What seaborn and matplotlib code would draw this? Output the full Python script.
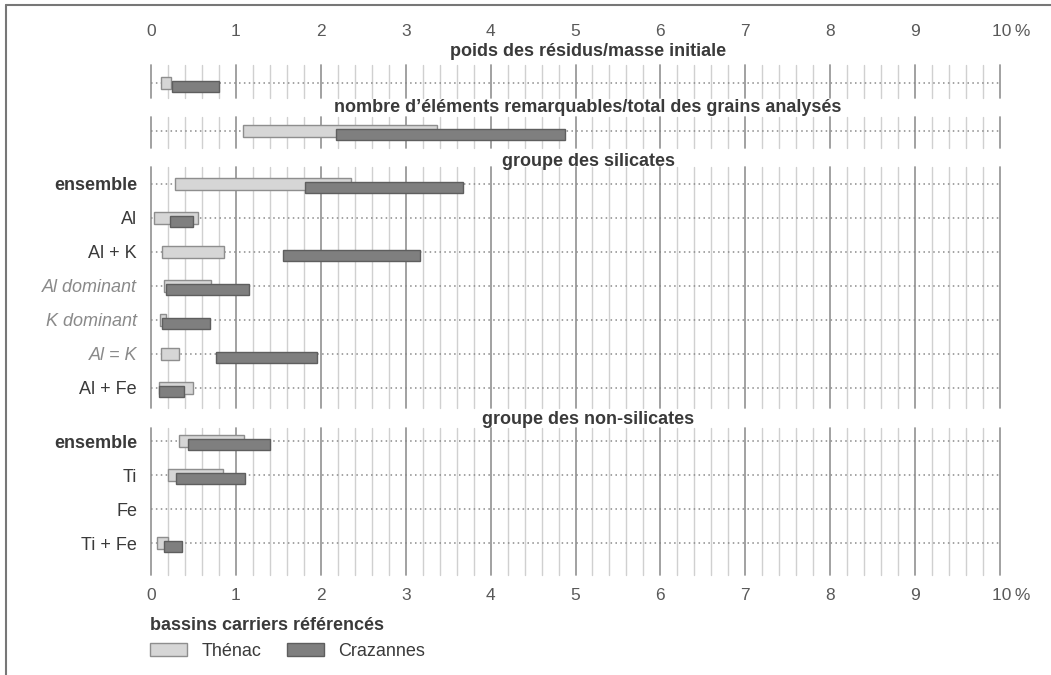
# plot.py
# Floating bar chart: ranges of residue measurements, Thénac vs Crazannes

import numpy as np
import matplotlib.pyplot as plt
import seaborn as sns
from matplotlib.lines import Line2D
from matplotlib.transforms import ScaledTranslation

sns.set_style("white")
plt.rcParams['font.family'] = ['Liberation Sans', 'DejaVu Sans']

# Data (min / max in %)
titles = ["poids des résidus/masse initiale",
          "nombre d\u2019éléments remarquables/total des grains analysés",
          "groupe des silicates",
          "groupe des non-silicates"]

residus_thenac = [0.12, 0.23]
residus_crazannes = [0.25, 0.80]

grains_thenac = [1.08, 3.37]
grains_crazannes = [2.18, 4.88]

sil_labels = ["ensemble", "Al", "Al + K", "Al dominant", "K dominant", "Al = K", "Al + Fe"]
sil_thenac_min = [0.28, 0.04, 0.13, 0.15, 0.11, 0.12, 0.09]
sil_thenac_max = [2.35, 0.55, 0.86, 0.71, 0.18, 0.33, 0.49]
sil_craz_min = [1.81, 0.22, 1.55, 0.18, 0.13, 0.77, 0.09]
sil_craz_max = [3.68, 0.50, 3.17, 1.16, 0.70, 1.95, 0.39]

nsil_labels = ["ensemble", "Ti", "Fe", "Ti + Fe"]
nsil_thenac_min = [0.33, 0.20, np.nan, 0.07]
nsil_thenac_max = [1.09, 0.85, np.nan, 0.20]
nsil_craz_min = [0.44, 0.29, np.nan, 0.15]
nsil_craz_max = [1.40, 1.11, np.nan, 0.37]

x_ticks = list(range(11))
x_ticklabels = ["0", "1", "2", "3", "4", "5", "6", "7", "8", "9", "10\u2009%"]

LIGHT, LIGHT_EDGE = "#d6d6d6", "#8e8e8e"
DARK, DARK_EDGE = "#7f7f7f", "#5e5e5e"
TXT = "#3a3a3a"
TICK_TXT = "#595959"

W, H = 1051, 675
fig = plt.figure(figsize=(W / 100, H / 100), dpi=100)

ROW_PX = 34.0
X0_PX, X1_PX = 151, 1000


def add_panel(top, bottom, first_row):
    ax = fig.add_axes([X0_PX / W, 1 - bottom / H, (X1_PX - X0_PX) / W, (bottom - top) / H])
    ax.set_xlim(0, 10)
    ax.set_ylim((bottom - first_row) / ROW_PX, (top - first_row) / ROW_PX)
    ax.patch.set_alpha(0)
    sns.despine(ax=ax, left=True, bottom=True)
    ax.tick_params(length=0)
    ax.set_xticks([])
    return ax


def draw(ax, labels, t_lo, t_hi, c_lo, c_hi):
    y = np.arange(len(labels))
    for v in np.arange(0, 10.001, 0.2):
        major = abs(v - round(v)) < 1e-6
        ax.axvline(v, color="#9a9a9a" if major else "#d0d0d0",
                   lw=1.3 if major else 1.0, zorder=0, clip_on=False)
    ax.hlines(y, 0, 10, color="#8a8a8a", lw=1.1, linestyles=(0, (1, 2.2)), zorder=1)
    th = ax.barh(y, np.subtract(t_hi, t_lo), left=t_lo, height=0.35,
                 color=LIGHT, edgecolor=LIGHT_EDGE, lw=1.0, zorder=2, label="Thénac")
    cz = ax.barh(y + 0.1, np.subtract(c_hi, c_lo), left=c_lo, height=0.33,
                 color=DARK, edgecolor=DARK_EDGE, lw=1.0, zorder=3, label="Crazannes")
    ax.set_yticks(y, labels)
    ax.tick_params(axis="y", pad=10, labelsize=13, labelcolor=TXT)
    return th, cz


def percent_ticks(ax, pad):
    ax.set_xticks(x_ticks, x_ticklabels)
    ax.tick_params(axis="x", length=0, pad=pad, labelsize=12.5, labelcolor=TICK_TXT)
    # the "10 %" label sits with its "10" over the gridline
    last = ax.get_xticklabels()[-1]
    last.set_transform(last.get_transform() + ScaledTranslation(0.11, 0, fig.dpi_scale_trans))


ax1 = add_panel(65, 98, 83)
draw(ax1, [""], [residus_thenac[0]], [residus_thenac[1]],
     [residus_crazannes[0]], [residus_crazannes[1]])
ax1.xaxis.tick_top()
percent_ticks(ax1, 19)

ax2 = add_panel(117, 148, 131)
draw(ax2, [""], [grains_thenac[0]], [grains_thenac[1]],
     [grains_crazannes[0]], [grains_crazannes[1]])

ax3 = add_panel(167, 408, 184)
draw(ax3, sil_labels, sil_thenac_min, sil_thenac_max, sil_craz_min, sil_craz_max)

ax4 = add_panel(428, 575, 441)
th, cz = draw(ax4, nsil_labels, nsil_thenac_min, nsil_thenac_max, nsil_craz_min, nsil_craz_max)
percent_ticks(ax4, 9)

# label styles
for ax in (ax3, ax4):
    for lab in ax.get_yticklabels():
        t = lab.get_text()
        if t == "ensemble":
            lab.set_fontweight("bold")
        elif t in ("Al dominant", "K dominant", "Al = K"):
            lab.set_fontstyle("italic")
            lab.set_color("#8a8a8a")

# panel titles
for title, ypx in zip(titles, [52, 108, 162, 420]):
    fig.text(588 / W, 1 - ypx / H, title, ha="center", va="center",
             fontsize=13, fontweight="bold", color=TXT)

# legend
leg = fig.legend(handles=[th, cz], labels=["Thénac", "Crazannes"],
                 loc="upper left", bbox_to_anchor=(141 / W, 1 - 608 / H),
                 ncol=2, frameon=False, fontsize=13, borderpad=0,
                 handlelength=2.05, handleheight=0.75, handletextpad=0.8,
                 columnspacing=1.4, title="bassins carriers référencés",
                 title_fontproperties={"weight": "bold", "size": 13},
                 alignment="left")
leg.get_title().set_color(TXT)
for t in leg.get_texts():
    t.set_color(TXT)

# frame lines (top and left)
fig.add_artist(Line2D([6 / W, 1], [1 - 5 / H, 1 - 5 / H], color="#777777", lw=1.5))
fig.add_artist(Line2D([6 / W, 6 / W], [0, 1 - 5 / H], color="#777777", lw=1.5))

fig.savefig("out.png", dpi=100)
